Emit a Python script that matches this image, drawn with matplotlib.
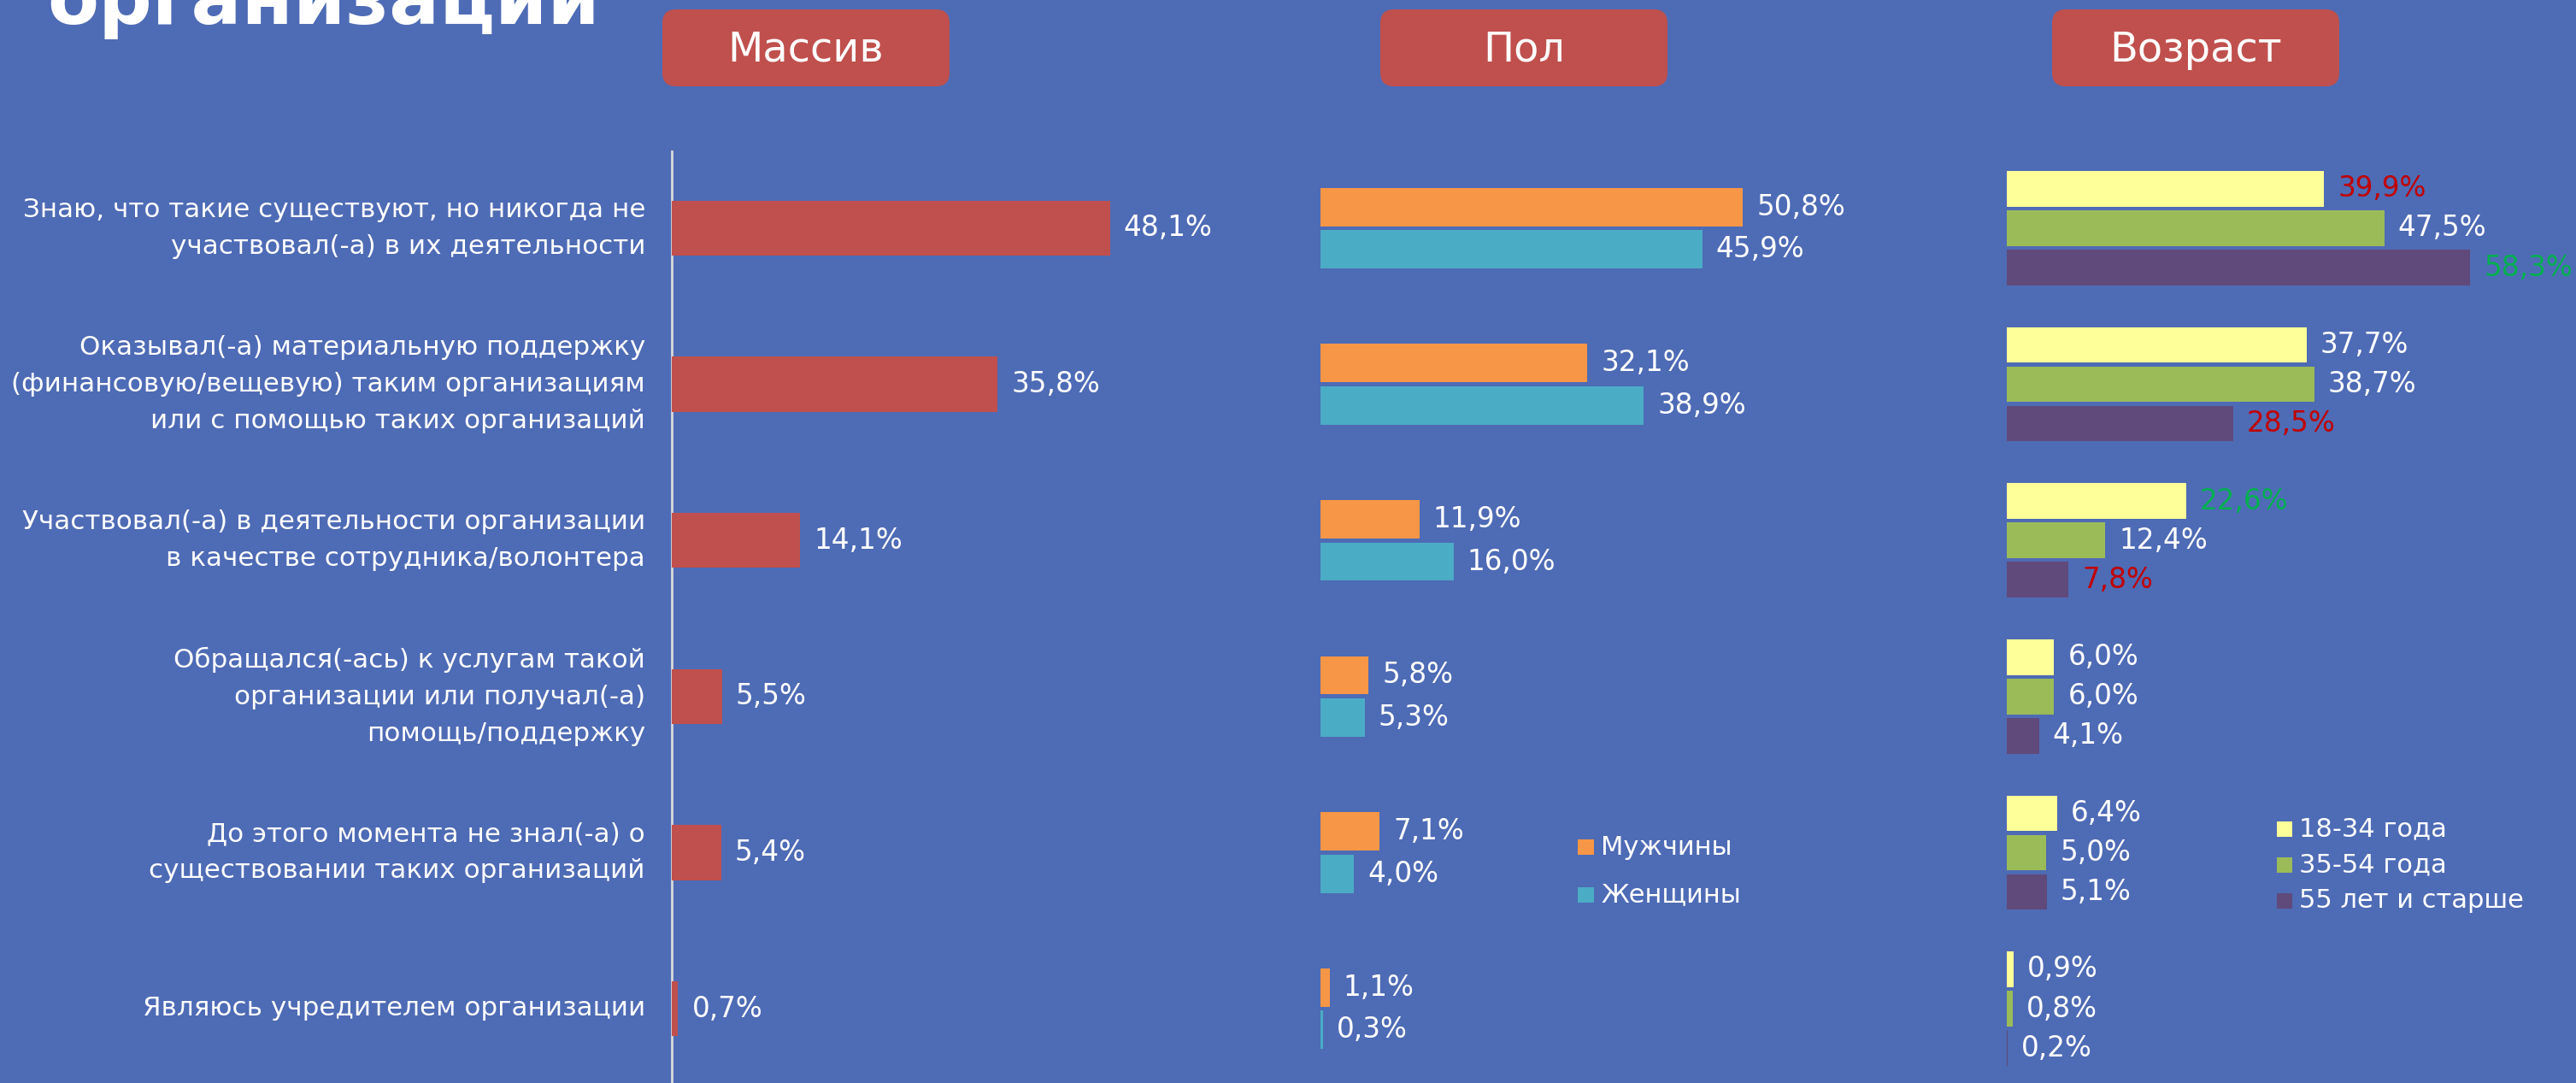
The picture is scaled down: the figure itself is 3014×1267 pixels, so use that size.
import matplotlib
matplotlib.use("Agg")
import matplotlib.pyplot as plt
from matplotlib.patches import FancyBboxPatch, Rectangle

# ---- data ----
categories = [
    "Знаю, что такие существуют, но никогда не\nучаствовал(-а) в их деятельности",
    "Оказывал(-а) материальную поддержку\n(финансовую/вещевую) таким организациям\nили с помощью таких организаций",
    "Участвовал(-а) в деятельности организации\nв качестве сотрудника/волонтера",
    "Обращался(-ась) к услугам такой\nорганизации или получал(-а)\nпомощь/поддержку",
    "До этого момента не знал(-а) о\nсуществовании таких организаций",
    "Являюсь учредителем организации",
]
total = [48.1, 35.8, 14.1, 5.5, 5.4, 0.7]
men = [50.8, 32.1, 11.9, 5.8, 7.1, 1.1]
women = [45.9, 38.9, 16.0, 5.3, 4.0, 0.3]
age_18_34 = [39.9, 37.7, 22.6, 6.0, 6.4, 0.9]
age_35_54 = [47.5, 38.7, 12.4, 6.0, 5.0, 0.8]
age_55 = [58.3, 28.5, 7.8, 4.1, 5.1, 0.2]

# label colours for the age panel (highlighted min/max)
age_18_34_col = ["#C00000", "white", "#00B050", "white", "white", "white"]
age_35_54_col = ["white"] * 6
age_55_col = ["#00B050", "#C00000", "#C00000", "white", "white", "white"]

panel_titles = ["Массив", "Пол", "Возраст"]
sex_labels = ["Мужчины", "Женщины"]
age_labels = ["18-34 года", "35-54 года", "55 лет и старше"]

BG = "#4E6BB5"
RED = "#C0504D"
ORANGE = "#F79646"
TEAL = "#4BACC6"
YELLOW = "#FFFF99"
GREEN = "#9BBB59"
PURPLE = "#604A7B"

W, H = 3014, 1267
plt.rcParams["font.family"] = ["DejaVu Sans"]

fig = plt.figure(figsize=(W / 100, H / 100), dpi=100)
fig.patch.set_facecolor(BG)

# overlay axes in pixel units (y down)
ov = fig.add_axes([0, 0, 1, 1])
ov.set_xlim(0, W)
ov.set_ylim(H, 0)
ov.axis("off")

# title (cut off at the top, as in the slide)
ov.text(55, 28, "организации", fontsize=63, fontweight="bold", color="white",
        ha="left", va="baseline")

# header boxes
for title, x0 in zip(panel_titles, [775, 1615, 2401]):
    box = FancyBboxPatch((x0 + 14, 11 + 14), 336 - 28, 90 - 28,
                         boxstyle="round,pad=14,rounding_size=16",
                         facecolor=RED, edgecolor="none")
    ov.add_patch(box)
    ov.text(x0 + 168, 58, title, fontsize=34.5, color="white", ha="center", va="center")

# vertical divider next to the category labels
ov.plot([786, 786], [177, H], color="#D9D9D9", lw=2)

row_y0, row_step = 267, 182.6
rows = list(range(len(categories)))
for i, cat in enumerate(categories):
    ov.text(755, row_y0 + row_step * i, cat, fontsize=22.3, color="white",
            ha="right", va="center", multialignment="right", linespacing=1.6)


def panel(x0, x1, scale):
    ax = fig.add_axes([x0 / W, 0, (x1 - x0) / W, 1])
    ax.set_xlim(0, (x1 - x0) / scale)
    ax.set_ylim((H - row_y0) / row_step, -row_y0 / row_step)
    ax.axis("off")
    ax.patch.set_alpha(0)
    return ax


def fmt(v):
    return f"{v:.1f}".replace(".", ",") + "%"


def labels(ax, vals, ys, colors):
    for v, y, c in zip(vals, ys, colors):
        ax.annotate(fmt(v), (v, y), xytext=(11.5, 0), textcoords="offset points",
                    ha="left", va="center", fontsize=23.5, color=c)


# Массив
ax1 = panel(786, 1500, 10.655)
ax1.barh(rows, total, height=0.352, color=RED)
labels(ax1, total, rows, ["white"] * 6)

# Пол
ax2 = panel(1545, 2300, 9.73)
off = 0.136
y_m = [r - off for r in rows]
y_w = [r + off for r in rows]
ax2.barh(y_m, men, height=0.246, color=ORANGE)
ax2.barh(y_w, women, height=0.246, color=TEAL)
labels(ax2, men, y_m, ["white"] * 6)
labels(ax2, women, y_w, ["white"] * 6)

# Возраст
ax3 = panel(2347.5, W, 9.313)
step = 0.252
for k, (vals, col, lcol) in enumerate([(age_18_34, YELLOW, age_18_34_col),
                                       (age_35_54, GREEN, age_35_54_col),
                                       (age_55, PURPLE, age_55_col)]):
    ys = [r + (k - 1) * step for r in rows]
    ax3.barh(ys, vals, height=0.228, color=col)
    labels(ax3, vals, ys, lcol)

# legends
for lab, col, y in zip(sex_labels, [ORANGE, TEAL], [991, 1047]):
    ov.add_patch(Rectangle((1846, y - 9), 19, 18, facecolor=col, edgecolor="none"))
    ov.text(1873, y, lab, fontsize=22, color="white", ha="left", va="center")
for lab, col, y in zip(age_labels, [YELLOW, GREEN, PURPLE], [970, 1012, 1054]):
    ov.add_patch(Rectangle((2664, y - 9), 18, 18, facecolor=col, edgecolor="none"))
    ov.text(2690, y, lab, fontsize=22, color="white", ha="left", va="center")

fig.savefig("out.png", dpi=100, facecolor=BG)
